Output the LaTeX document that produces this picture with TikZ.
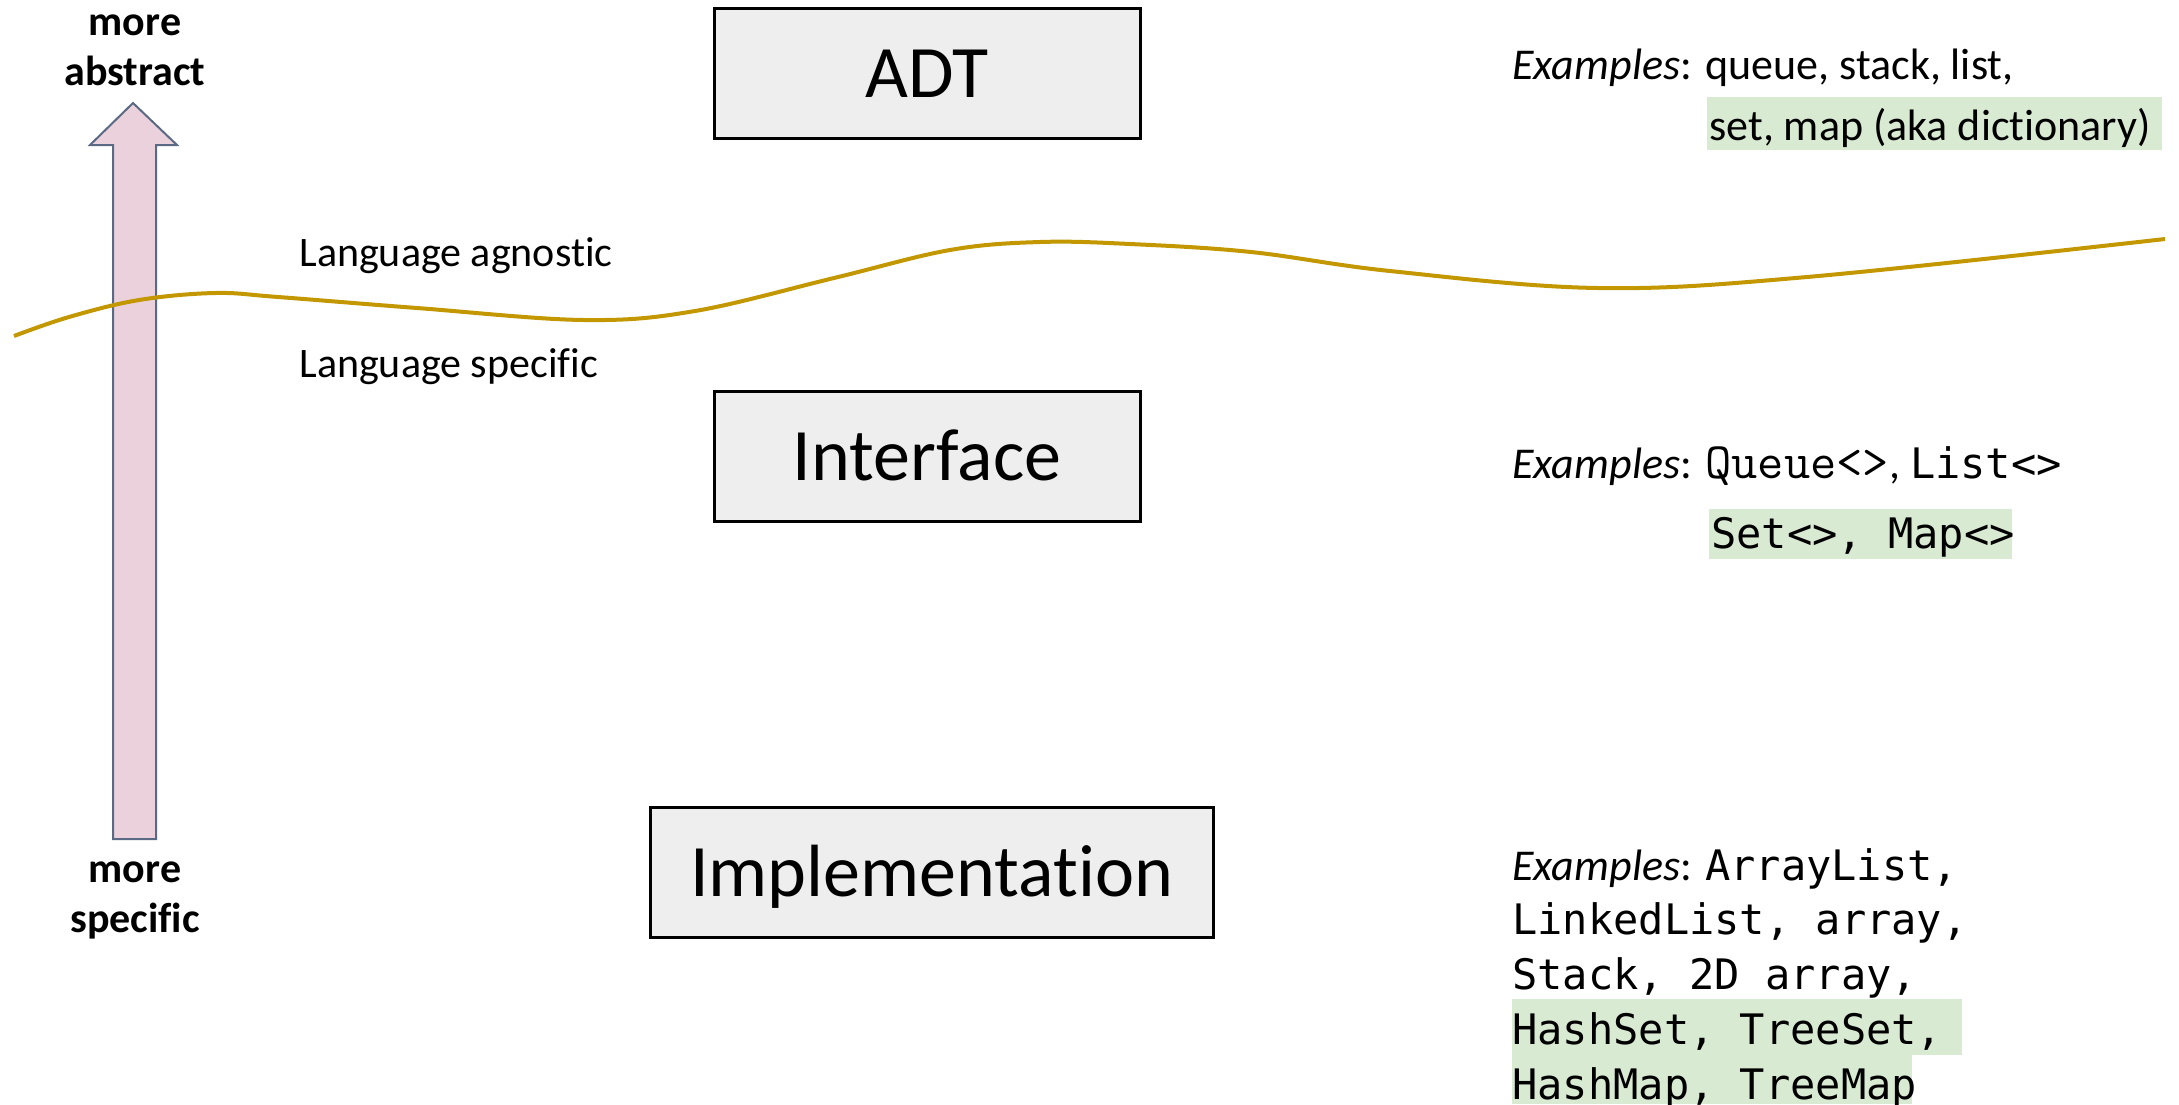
\documentclass[tikz,border=0pt]{standalone}
\usepackage{fontspec}
\setmainfont{Carlito}[Ligatures=CommonOff]
\newfontfamily\consolfont{DejaVu Sans Mono}
\newfontfamily\courfont{Latin Modern Mono}
\definecolor{boxgray}{HTML}{EEEEEE}
\definecolor{arrowpink}{HTML}{EAD1DC}
\definecolor{arrowedge}{HTML}{5A6A85}
\definecolor{curvegold}{HTML}{C29700}
\definecolor{hlgreen}{HTML}{D9EAD3}
\begin{document}
\begin{tikzpicture}[x=0.5pt,y=-0.5pt,
  levelbox/.style={draw=black, line width=1.5pt, fill=boxgray, inner sep=0pt,
    minimum height=65pt, text height=24pt, text depth=0pt,
    font=\fontsize{37}{44}\selectfont},
  sidelabel/.style={inner sep=0pt, anchor=base, font=\bfseries\fontsize{21}{26}\selectfont},
  langlabel/.style={inner sep=0pt, anchor=base west, font=\fontsize{21}{26}\selectfont},
  extext/.style={inner sep=0pt, anchor=base west, font=\fontsize{22}{26}\selectfont},
  mono/.style={inner sep=0pt, anchor=base west, font=\consolfont\fontsize{21}{26}\selectfont},
  hl/.style={fill=hlgreen},
  bigarrow/.style={fill=arrowpink, draw=arrowedge, line width=1pt, line join=miter},
  divider/.style={draw=curvegold, line width=2pt}
]
\useasboundingbox (0,0) rectangle (2179,1104);

% abstraction arrow
\draw[bigarrow] (113,839) -- (113,145) -- (90,145) -- (133,103) -- (177,145)
  -- (156,145) -- (156,839) -- cycle;
\node[sidelabel] (moreA) at (135,35) {more};
\node[sidelabel] (abstract) at (135,85) {abstract};
\node[sidelabel] (moreS) at (135,882) {more};
\node[sidelabel] (specific) at (135,932) {specific};

% divider curve
\draw[divider] plot[smooth, tension=0.6] coordinates {
  (14,336) (69,317) (139,300) (215,293) (278,297) (417,308) (584,320)
  (695,311) (834,278) (950,250) (1040,242) (1130,244) (1251,252) (1390,271)
  (1598,288) (1807,277) (2165,239)};
\node[langlabel] (agnostic) at (299,266) {Language agnostic};
\node[langlabel] (specificL) at (299,377) {Language specific};

% level boxes
\node[levelbox, minimum width=213pt] (adt) at (927,73) {ADT};
\node[levelbox, minimum width=213pt] (iface) at (927,456.5) {Interface};
\node[levelbox, minimum width=281.5pt] (impl) at (931.5,872) {Implementation};

% highlights
\fill[hl] (1707,97) rectangle (2162,150);
\fill[hl] (1709,509) rectangle (2012,559);
\fill[hl] (1512,999) rectangle (1962,1055);
\fill[hl] (1512,1055) rectangle (1912,1104);

% ADT examples
\node[extext] (adtex1) at (1512,79) {\textit{Examples}: queue, stack, list,};
\node[extext] (adtex2) at (1709,140) {set, map (aka dictionary)};

% Interface examples
\node[extext] (ifex1) at (1512,478) {\textit{Examples}: {\courfont\fontsize{25.5}{26}\selectfont Queue<>}, {\consolfont\fontsize{21}{26}\selectfont List<>}};
\node[mono] (ifex2) at (1711,548) {Set<>, Map<>};

% Implementation examples
\node[extext] (imex1) at (1512,880) {\textit{Examples}: {\consolfont\fontsize{21}{26}\selectfont ArrayList,}};
\node[mono] (imex2) at (1512,934.5) {LinkedList, array,};
\node[mono] (imex3) at (1512,989.5) {Stack, 2D array,};
\node[mono] (imex4) at (1512,1044) {HashSet, TreeSet,};
\node[mono] (imex5) at (1512,1099) {HashMap, TreeMap};
\end{tikzpicture}
\end{document}
